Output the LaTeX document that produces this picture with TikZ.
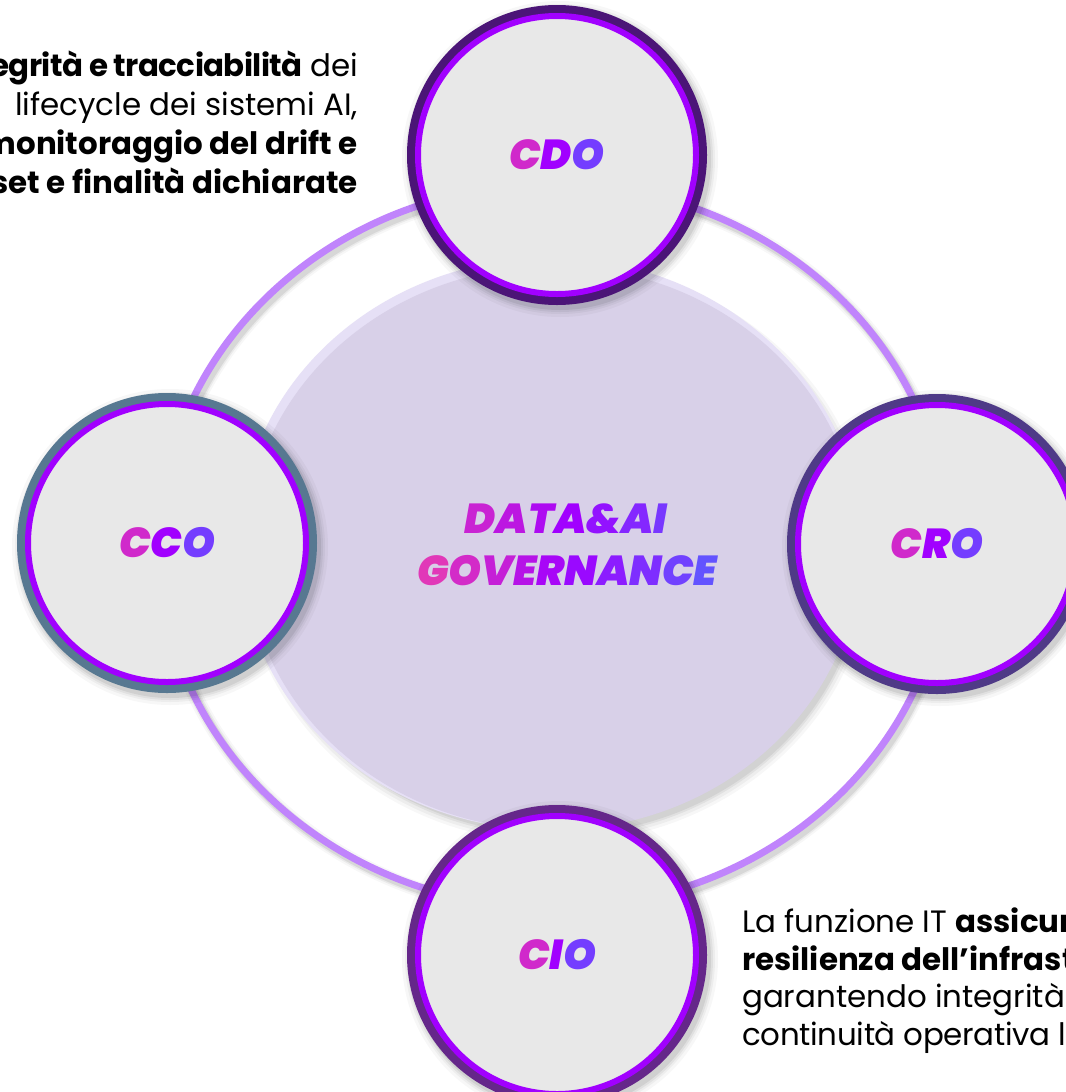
\documentclass[tikz,border=0pt]{standalone}
\usepackage{fontspec}
\setmainfont{Poppins}
\newfontfamily\labelfont{Poppins Black Italic}
\definecolor{gpink}{HTML}{E83EB0}
\definecolor{gpurple}{HTML}{A100FF}
\definecolor{gblue}{HTML}{5C5CFF}
\definecolor{ringc}{HTML}{C084FC}
\definecolor{diskc}{HTML}{D8D0E8}
\definecolor{diskglow}{HTML}{E6E0F6}
\definecolor{circfill}{HTML}{E8E8E8}
\definecolor{cdodark}{HTML}{4B1577}
\definecolor{ccodark}{HTML}{577891}
\definecolor{crodark}{HTML}{4F3A87}
\definecolor{ciodark}{HTML}{65278A}
\newcommand\tcl[2]{\textcolor{#1}{#2}}
\begin{document}
\begin{tikzpicture}[x=1bp,y=-1bp,
  rolecircle/.style={circle, inner sep=0pt, minimum size=278bp, fill=circfill,
    draw=gpurple, line width=6bp,
    font=\labelfont\fontsize{42}{50}\selectfont},
  titletext/.style={inner sep=0pt, font=\labelfont\fontsize{42}{52}\selectfont},
  bodytext/.style={inner sep=0pt, text=black, font=\fontsize{31}{39}\selectfont}]
\useasboundingbox (0,0) rectangle (1066,1092);
\clip (0,0) rectangle (1066,1092);
\fill[white] (0,0) rectangle (1066,1092);

% outer ring with soft shadow
\foreach \w/\o in {15/0.03,11/0.05,8/0.08}
  \draw[black, opacity=\o, line width=\w bp] (556,550) ellipse [x radius=394, y radius=362];
\draw[ringc, line width=7bp] (553,546) ellipse [x radius=394, y radius=362];

% central disk with glow and shadow
\foreach \d/\o in {8/0.03,5/0.04,2/0.05,0/0.06}
  \fill[black, opacity=\o] (557,553) ellipse [x radius=307+\d, y radius=282+\d];
\fill[diskglow] (550,544) ellipse [x radius=311, y radius=286];
\fill[diskc] (553,548) ellipse [x radius=307, y radius=282];

% shadows of the role circles
\foreach \cx/\cy in {557/155,167/543,937/544,557/955}{
  \foreach \r/\o in {158/0.03,155/0.04,153/0.05,151/0.07}
    \fill[black, opacity=\o] (\cx+3,\cy+4) circle [radius=\r];
}

% role circles
\node[rolecircle, preaction={draw=cdodark, line width=22bp}] (cdo) at (557,155)
  {\tcl{gpink!66!gpurple}{C}\tcl{gpurple}{D}\tcl{gblue!66!gpurple}{O}};
\node[rolecircle, preaction={draw=ccodark, line width=22bp}] (cco) at (167,543)
  {\tcl{gpink!66!gpurple}{C}\tcl{gpurple}{C}\tcl{gblue!66!gpurple}{O}};
\node[rolecircle, preaction={draw=crodark, line width=22bp}] (cro) at (937,544)
  {\tcl{gpink!66!gpurple}{C}\tcl{gpurple}{R}\tcl{gblue!66!gpurple}{O}};
\node[rolecircle, preaction={draw=ciodark, line width=22bp}] (cio) at (557,955)
  {\tcl{gpink!66!gpurple}{C}\tcl{gpurple}{I}\tcl{gblue!66!gpurple}{O}};

% title
\node[titletext, anchor=base] (title1) at (566,533)
  {\tcl{gpink!56!gpurple}{D}\tcl{gpink!38!gpurple}{A}\tcl{gpink!18!gpurple}{T}\tcl{gpurple}{A}\tcl{gblue!20!gpurple}{\&}\tcl{gblue!42!gpurple}{A}\tcl{gblue!60!gpurple}{I}};
\node[titletext, anchor=base] (title2) at (567,585)
  {\tcl{gpink!90!gpurple}{G}\tcl{gpink!70!gpurple}{O}\tcl{gpink!50!gpurple}{V}\tcl{gpink!30!gpurple}{E}\tcl{gpink!10!gpurple}{R}\tcl{gblue!10!gpurple}{N}\tcl{gblue!30!gpurple}{A}\tcl{gblue!50!gpurple}{N}\tcl{gblue!70!gpurple}{C}\tcl{gblue!90!gpurple}{E}};

% top-left text (cropped by the frame)
\node[bodytext, anchor=base east] (tl1) at (358,76) {\textbf{\addfontfeature{LetterSpace=-2}egrità e tracciabilità} dei};
\node[bodytext, anchor=base east] (tl2) at (358,115) {lifecycle dei sistemi AI,};
\node[bodytext, anchor=base east] (tl3) at (358,154) {\textbf{monitoraggio del drift e}};
\node[bodytext, anchor=base east] (tl4) at (358,193) {\textbf{set e finalità dichiarate}};

% bottom-right text (cropped by the frame)
\node[bodytext, anchor=base west] (br1) at (742,932) {La funzione IT \textbf{assicura}};
\node[bodytext, anchor=base west] (br2) at (742,970) {\textbf{resilienza dell’infrastruttura}};
\node[bodytext, anchor=base west] (br3) at (742,1007) {garantendo integrità};
\node[bodytext, anchor=base west] (br4) at (742,1045) {\addfontfeature{LetterSpace=-1}continuità operativa l};
\end{tikzpicture}
\end{document}
